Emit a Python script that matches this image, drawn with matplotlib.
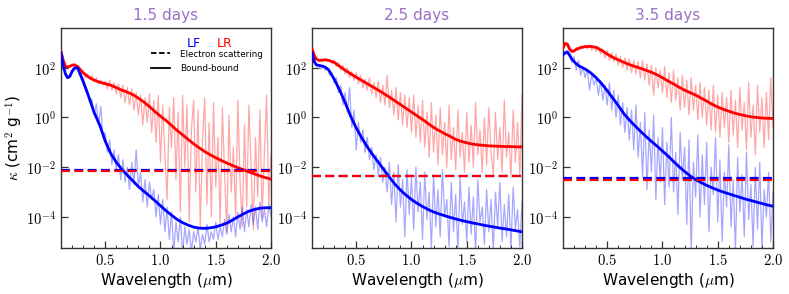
import numpy as np
import matplotlib
matplotlib.use("Agg")
import matplotlib.pyplot as plt
from matplotlib.lines import Line2D
from matplotlib.ticker import FixedLocator, FuncFormatter, MultipleLocator, NullLocator

plt.rcParams['mathtext.fontset'] = 'cm'
plt.rcParams['font.family'] = ['DejaVu Sans']

titles = ["1.5 days", "2.5 days", "3.5 days"]

# wavelengths (micron) for the smooth (bound-bound) curves
wl_smooth = [0.10, 0.12, 0.14, 0.16, 0.18, 0.20, 0.22, 0.25, 0.30, 0.35, 0.40, 0.45,
             0.50, 0.55, 0.60, 0.65, 0.70, 0.75, 0.80, 0.85, 0.90, 0.95, 1.00, 1.05,
             1.10, 1.15, 1.20, 1.25, 1.30, 1.35, 1.40, 1.45, 1.50, 1.55, 1.60, 1.65,
             1.70, 1.75, 1.80, 1.85, 1.90, 1.95, 2.00]

# log10 kappa, smooth curves
lf_15_smooth = [2.60, 2.10, 1.75, 1.60, 1.65, 1.85, 1.98, 2.00, 1.45, 0.85, 0.20, -0.30,
                -0.95, -1.45, -1.80, -2.08, -2.32, -2.55, -2.78, -2.97, -3.15, -3.35, -3.55, -3.75,
                -3.93, -4.10, -4.23, -4.33, -4.41, -4.45, -4.46, -4.44, -4.40, -4.33, -4.25, -4.13,
                -4.00, -3.88, -3.77, -3.70, -3.65, -3.63, -3.63]
lr_15_smooth = [2.66, 2.30, 2.05, 2.02, 2.06, 2.10, 2.12, 2.05, 1.80, 1.62, 1.50, 1.42,
                1.36, 1.30, 1.20, 1.10, 1.02, 0.92, 0.78, 0.62, 0.44, 0.24, 0.05, -0.12,
                -0.32, -0.52, -0.70, -0.88, -1.06, -1.22, -1.37, -1.50, -1.62, -1.73, -1.83, -1.93,
                -2.02, -2.10, -2.19, -2.27, -2.35, -2.42, -2.48]
lf_25_smooth = [2.60, 2.25, 2.12, 2.10, 2.08, 2.06, 2.02, 1.92, 1.55, 1.10, 0.60, 0.05,
                -0.42, -0.82, -1.18, -1.50, -1.80, -2.10, -2.40, -2.68, -2.92, -3.12, -3.30, -3.45,
                -3.58, -3.70, -3.80, -3.88, -3.95, -4.02, -4.08, -4.14, -4.19, -4.24, -4.28, -4.33,
                -4.37, -4.41, -4.45, -4.48, -4.52, -4.56, -4.60]
lr_25_smooth = [2.77, 2.50, 2.35, 2.30, 2.30, 2.31, 2.32, 2.30, 2.22, 2.06, 1.90, 1.76,
                1.62, 1.49, 1.36, 1.23, 1.10, 0.96, 0.82, 0.67, 0.52, 0.37, 0.22, 0.07,
                -0.08, -0.24, -0.40, -0.53, -0.65, -0.76, -0.88, -0.96, -1.02, -1.07, -1.10, -1.12,
                -1.14, -1.15, -1.16, -1.17, -1.17, -1.18, -1.18]
lf_35_smooth = [2.52, 2.60, 2.64, 2.50, 2.35, 2.25, 2.16, 2.06, 1.95, 1.80, 1.60, 1.36,
                1.08, 0.78, 0.48, 0.16, -0.10, -0.33, -0.55, -0.76, -0.96, -1.15, -1.35, -1.55,
                -1.77, -1.98, -2.17, -2.35, -2.50, -2.62, -2.73, -2.83, -2.92, -3.00, -3.07, -3.14,
                -3.21, -3.28, -3.34, -3.40, -3.46, -3.52, -3.57]
lr_35_smooth = [2.80, 2.98, 2.95, 2.75, 2.66, 2.68, 2.74, 2.80, 2.85, 2.86, 2.82, 2.70,
                2.55, 2.42, 2.32, 2.22, 2.13, 2.05, 1.98, 1.90, 1.82, 1.72, 1.60, 1.47,
                1.35, 1.22, 1.10, 1.00, 0.90, 0.78, 0.66, 0.53, 0.42, 0.33, 0.25, 0.18,
                0.12, 0.07, 0.03, 0.00, -0.02, -0.03, -0.04]

# wavelengths (micron) for the raw (noisy) opacities: 0.10, 0.12, ..., 2.00
wl_raw = [round(0.10 + 0.02 * i, 2) for i in range(96)]

lf_15_raw = [2.62, 2.15, 1.78, 1.62, 1.70, 1.90, 2.00, 1.98, 1.95, 1.75,
             1.60, 1.30, 1.10, 0.60, 0.75, 0.10, 0.55, -0.30, 0.45, -0.80,
             -0.60, -1.40, -0.90, -1.90, -1.30, -2.10, -1.50, -2.50, -1.70, -2.60,
             -2.00, -2.90, -1.80, -2.70, -1.30, -2.80, -2.20, -3.40, -2.50, -3.60,
             -2.60, -3.30, -2.90, -4.00, -3.10, -4.30, -3.30, -4.60, -3.60, -4.90,
             -3.80, -5.40, -4.20, -5.00, -4.00, -5.50, -4.40, -5.10, -4.50, -5.40,
             -4.60, -5.00, -4.40, -5.30, -4.70, -5.10, -4.30, -5.00, -4.60, -4.90,
             -4.20, -4.90, -4.40, -4.80, -4.10, -4.70, -3.90, -4.60, -4.00, -4.80,
             -3.80, -4.50, -3.60, -4.60, -3.70, -4.40, -3.50, -4.30, -3.60, -4.50,
             -3.40, -4.20, -3.70, -4.40, -3.50, -4.00]
lr_15_raw = [2.66, 2.30, 2.08, 2.10, 2.05, 2.15, 2.10, 2.00, 1.85, 1.75,
             1.90, 1.60, 1.75, 1.55, 1.70, 1.45, 1.60, 1.35, 1.50, 1.30,
             1.45, 1.15, 1.50, 1.10, 1.40, 0.95, 1.35, 0.80, 1.30, 0.60,
             1.20, 0.50, 1.15, 0.30, 1.00, 0.10, 0.90, -0.30, 0.80, -0.20,
             0.95, -0.60, 0.70, -1.00, 0.90, -1.80, 0.50, -1.50, -3.30, 0.40,
             -1.20, 0.80, -2.50, 0.20, -3.80, 0.90, -2.00, 0.50, -4.20, -0.50,
             0.70, -3.00, 0.30, -4.40, -1.00, 0.80, -3.50, -0.20, -4.00, 0.60,
             -2.80, -0.80, -4.30, 0.40, -2.20, -4.60, 0.10, -3.00, -1.20, -4.10,
             0.70, -2.60, -4.40, -0.30, -3.60, 0.50, -2.00, -4.50, -0.80, -3.20,
             0.30, -4.00, -1.50, 0.90, -3.50, -1.50]
lf_25_raw = [2.60, 2.20, 2.05, 2.08, 1.95, 2.05, 1.90, 2.00, 1.70, 1.80,
             1.40, 1.60, 1.00, 1.30, 0.50, 1.00, 0.20, 1.20, -0.40, 0.30,
             -1.30, -0.20, -1.00, -0.50, -1.40, -0.80, -1.70, -1.20, -2.10, -1.50,
             -2.30, -1.60, -2.60, -2.00, -3.00, -1.80, -3.50, -2.20, -4.20, -1.90,
             -3.60, -2.50, -4.80, -2.10, -3.90, -2.40, -4.50, -2.00, -3.80, -2.60,
             -4.90, -2.20, -4.10, -3.00, -5.30, -2.30, -4.40, -2.90, -4.80, -2.10,
             -4.00, -3.30, -5.20, -2.60, -4.60, -3.10, -5.40, -2.40, -4.30, -3.40,
             -5.00, -2.80, -4.70, -3.20, -5.50, -2.50, -4.20, -3.60, -5.10, -2.90,
             -4.60, -3.30, -5.40, -3.00, -4.40, -2.60, -5.00, -3.50, -4.80, -3.10,
             -5.30, -2.80, -4.50, -3.70, -5.20, -3.40]
lr_25_raw = [2.77, 2.45, 2.38, 2.28, 2.35, 2.28, 2.36, 2.25, 2.32, 2.15,
             2.30, 2.05, 2.20, 1.90, 2.10, 1.75, 2.00, 1.60, 1.85, 1.50,
             1.80, 1.35, 1.70, 1.20, 1.55, 1.10, 1.60, 0.95, 1.40, 0.80,
             1.45, 0.60, 1.30, 0.50, 1.70, 0.40, 1.10, 0.10, 1.20, -0.10,
             1.00, -0.30, 0.90, -0.40, 0.80, -0.60, 0.90, -0.80, 0.50, -1.00,
             0.70, -1.20, 0.20, -1.60, 0.60, -1.40, 0.10, -1.90, 0.40, -1.50,
             -0.20, -2.00, 0.50, -1.70, -0.40, -2.10, 0.30, -1.60, -0.60, -2.20,
             0.20, -1.80, -0.30, -2.00, 0.60, -1.50, -0.50, -2.20, 0.00, -1.90,
             0.40, -1.40, -2.30, 0.20, -1.70, -0.40, -2.20, 0.70, -1.60, -0.60,
             -2.40, 0.30, -1.80, -0.20, -2.30, 0.90]
lf_35_raw = [2.52, 2.62, 2.55, 2.60, 2.20, 2.45, 1.90, 2.30, 1.70, 2.05,
             1.60, 1.95, 1.10, 1.75, 1.30, 1.60, 0.90, 1.50, 0.70, 1.30,
             0.50, 1.40, 0.30, 1.10, 0.00, 0.90, -0.30, 0.60, -0.60, 0.40,
             -0.90, 0.30, -1.30, 0.50, -1.60, -0.20, -2.40, 0.20, -2.90, -0.50,
             -2.20, 0.10, -3.30, -0.80, -2.60, -0.40, -3.50, -1.00, -2.80, 0.00,
             -3.00, -1.40, -3.90, -0.60, -2.50, -1.20, -4.30, -0.90, -5.50, -1.80,
             -3.20, -0.70, -4.00, -1.50, -3.50, -1.00, -4.60, -2.00, -3.10, -0.80,
             -4.20, -1.70, -5.00, -2.20, -3.60, -1.10, -4.40, -2.50, -5.40, -1.60,
             -3.80, -2.30, -4.80, -1.40, -4.10, -2.70, -5.20, -2.00, -4.50, -1.80,
             -5.30, -2.90, -4.00, -2.20, -5.00, -3.00]
lr_35_raw = [2.80, 2.95, 2.90, 2.70, 2.75, 2.62, 2.80, 2.72, 2.88, 2.78,
             2.90, 2.75, 2.92, 2.70, 2.88, 2.65, 2.85, 2.55, 2.75, 2.40,
             2.70, 2.30, 2.60, 2.25, 2.55, 2.10, 2.45, 2.00, 2.40, 1.90,
             2.35, 1.80, 2.30, 1.75, 2.25, 1.60, 2.30, 1.50, 2.15, 1.30,
             2.10, 0.90, 2.00, 1.20, 1.90, 1.00, 2.05, 0.80, 1.80, 0.60,
             1.90, 0.70, 1.60, 0.30, 1.70, 0.40, 1.50, 0.10, 1.60, 0.30,
             1.30, -0.10, 1.40, 0.00, 1.20, -0.30, 1.10, -0.50, 1.30, -0.60,
             0.90, -0.80, 1.00, -0.40, 0.80, -1.00, 1.10, -0.70, 0.70, -1.20,
             1.20, -0.50, 0.60, -1.30, 1.40, -0.80, 0.50, -1.50, 1.30, -0.60,
             0.80, -1.20, 1.00, -0.90, 1.60, -0.40]

# electron scattering opacities (cm^2/g)
es_lf = [7.8e-3, 4.5e-3, 3.8e-3]
es_lr = [6.8e-3, 4.5e-3, 3.0e-3]

smooth_lf = [lf_15_smooth, lf_25_smooth, lf_35_smooth]
smooth_lr = [lr_15_smooth, lr_25_smooth, lr_35_smooth]
raw_lf = [lf_15_raw, lf_25_raw, lf_35_raw]
raw_lr = [lr_15_raw, lr_25_raw, lr_35_raw]

BLUE = '#0000ff'
RED = '#ff0000'
PURPLE = '#9a6fc6'
SPINE = '#333333'

fig = plt.figure(figsize=(7.89, 2.94), dpi=100)
lefts = [61 / 789, 312 / 789, 563 / 789]
width = 210 / 789
bottom = 1 - 248 / 294
height = 220 / 294

ylo, yhi = 10 ** -5.25, 10 ** 3.6

for k in range(3):
    ax = fig.add_axes([lefts[k], bottom, width, height])
    ax.set_yscale('log')
    ax.plot(wl_raw, 10 ** np.array(raw_lr[k]), color=RED, alpha=0.35, lw=0.9, zorder=1)
    ax.plot(wl_raw, 10 ** np.array(raw_lf[k]), color=BLUE, alpha=0.35, lw=0.9, zorder=1)
    ax.plot(wl_smooth, 10 ** np.array(smooth_lr[k]), color=RED, lw=2.0, zorder=3)
    ax.plot(wl_smooth, 10 ** np.array(smooth_lf[k]), color=BLUE, lw=2.0, zorder=3)
    ax.axhline(es_lf[k], color=BLUE, lw=1.6, ls=(0, (4, 2)), zorder=4)
    ax.axhline(es_lr[k], color=RED, lw=1.6, ls=(0, (4, 2)), zorder=4)
    ax.set_xlim(0.1, 2.0)
    ax.set_ylim(ylo, yhi)
    ax.set_title(titles[k], color=PURPLE, fontsize=11, pad=6)
    ax.set_xlabel(r'Wavelength ($\mu$m)', fontsize=11, labelpad=2)
    if k == 0:
        ax.set_ylabel(r'$\kappa$ (cm$^2$ g$^{-1}$)', fontsize=11, labelpad=1)
    ax.xaxis.set_major_locator(FixedLocator([0.5, 1.0, 1.5, 2.0]))
    ax.xaxis.set_minor_locator(MultipleLocator(0.1))
    ax.xaxis.set_major_formatter(FuncFormatter(lambda v, p: r'$%.1f$' % v))
    ax.yaxis.set_major_locator(FixedLocator([1e-4, 1e-2, 1e0, 1e2]))
    ax.yaxis.set_minor_locator(NullLocator())
    ax.yaxis.set_major_formatter(FuncFormatter(lambda v, p: r'$10^{%d}$' % round(np.log10(v))))
    ax.tick_params(which='both', direction='in', labelsize=10.5, color=SPINE)
    ax.tick_params(which='major', length=5, width=0.9)
    ax.tick_params(which='minor', length=2.5, width=0.7)
    for s in ax.spines.values():
        s.set_color(SPINE)
        s.set_linewidth(1.0)
    if k == 0:
        ax.text(0.60, 0.93, 'LF', color=BLUE, fontsize=9, transform=ax.transAxes,
                ha='left', va='center')
        ax.text(0.74, 0.93, 'LR', color=RED, fontsize=9, transform=ax.transAxes,
                ha='left', va='center')
        handles = [Line2D([], [], color='k', ls=(0, (3, 1.5)), lw=1.3),
                   Line2D([], [], color='k', ls='-', lw=1.3)]
        ax.legend(handles, ['Electron scattering', 'Bound-bound'], loc='upper left',
                  bbox_to_anchor=(0.40, 0.93), frameon=False, fontsize=6.3,
                  handlelength=2.2, handletextpad=1.1, labelspacing=0.65, borderpad=0.2)

fig.savefig('out.png', dpi=100)
